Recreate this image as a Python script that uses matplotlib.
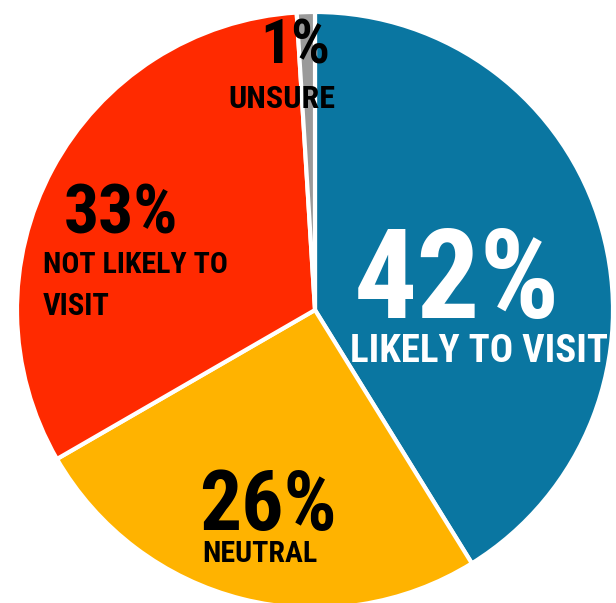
import matplotlib.pyplot as plt
from matplotlib import font_manager

# pie data, clockwise from the top
labels = ['LIKELY TO VISIT', 'NEUTRAL', 'NOT LIKELY TO\nVISIT', 'UNSURE']
pcts = ['42%', '26%', '33%', '1%']
values = [42, 26, 33, 1]
colors = ['#0A76A1', '#FFB300', '#FF2A00', '#9A9A9A']

# pick a narrow bold font if there is one
names = {f.name for f in font_manager.fontManager.ttflist}
font = 'DejaVu Sans'
for cand in ['Roboto Condensed', 'Open Sans Condensed', 'Liberation Sans Narrow']:
    if cand in names:
        font = cand
        break

W, H = 616, 603
cx, cy, r = 315, 310, 298  # pie centre and radius in pixels

fig = plt.figure(figsize=(W / 100, H / 100), dpi=100)
ax = fig.add_axes([0, 0, 1, 1])

ax.pie(values, colors=colors, startangle=90, counterclock=False,
       wedgeprops=dict(edgecolor='white', linewidth=3))
ax.set_aspect('auto')
ax.set_xlim(-cx / r, (W - cx) / r)
ax.set_ylim(-(H - cy) / r, cy / r)
ax.axis('off')

kw = dict(family=font, fontweight='bold', fontstretch='condensed')

def txt(x, y, s, size, color='black', ha='center'):
    # x, y are picture pixels from the top left, y is the baseline
    fig.text(x / W, 1 - y / H, s, fontsize=size, color=color, ha=ha,
             va='baseline', **kw)

# likely to visit
txt(457, 318, pcts[0], 90, 'white')
txt(479, 362, labels[0], 28, 'white')
# neutral
txt(268, 530, pcts[1], 60)
txt(202, 562, labels[1], 21.5, ha='left')
# not likely
txt(121, 234, pcts[2], 50)
l1, l2 = labels[2].split('\n')
txt(43, 273, l1, 21.5, ha='left')
txt(43, 315, l2, 22, ha='left')
# unsure
txt(295, 63, pcts[3], 44)
txt(282, 108, labels[3], 23)

fig.savefig('out.png', dpi=100)
